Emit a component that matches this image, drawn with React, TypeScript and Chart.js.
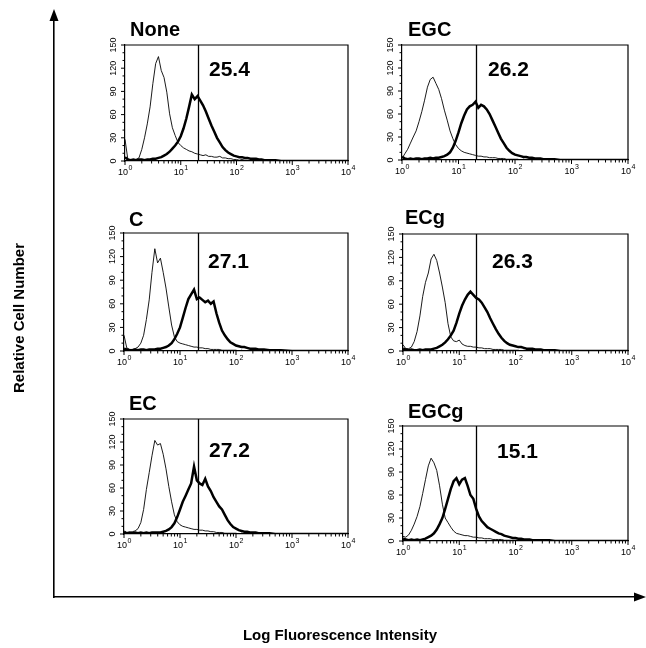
import React, { useEffect, useRef } from "react";
import { Chart, registerables } from "chart.js";
Chart.register(...registerables);

const FONT = '"Liberation Sans", Arial, Helvetica, sans-serif';

// Histogram bin centres (fluorescence units, log spaced)
const binCenters = [
  1.0, 1.12, 1.26, 1.41, 1.58, 1.78, 2.0, 2.24, 2.51, 2.82,
  3.16, 3.55, 3.98, 4.47, 5.01, 5.62, 6.31, 7.08, 7.94, 8.91,
  10.0, 11.2, 12.6, 14.1, 15.8, 17.8, 20.0, 22.4, 25.1, 28.2,
  31.6, 35.5, 39.8, 44.7, 50.1, 56.2, 63.1, 70.8, 79.4, 89.1,
  100, 112, 126, 141, 158, 178, 200, 224, 251, 282,
  316, 398, 501, 631, 1000, 3162, 10000,
];

// Control (thin) and treated (thick) histograms per panel
const noneControl = [
  28, 3, 1, 1, 2, 4, 15, 30, 48, 70,
  100, 126, 135, 117, 108, 89, 61, 43, 33, 24,
  20, 17, 15, 13, 12, 10, 9, 8, 7, 8,
  6, 6, 5, 5, 6, 4, 4, 3, 3, 2,
  2, 1, 2, 1, 1, 1, 1, 0, 1, 0,
  0, 0, 0, 0, 0, 0, 0,
];
const noneTreated = [
  5, 2, 1, 2, 1, 2, 2, 1, 2, 2,
  3, 3, 4, 5, 7, 9, 12, 16, 20, 25,
  32, 42, 55, 70, 86, 80, 84, 78, 72, 64,
  55, 46, 38, 30, 24, 18, 14, 11, 9, 7,
  6, 5, 5, 4, 4, 3, 3, 3, 2, 2,
  1, 1, 1, 0, 0, 0, 0,
];
const egcControl = [
  2, 8, 14, 22, 30, 38, 50, 63, 78, 95,
  105, 108, 100, 92, 80, 65, 52, 38, 28, 20,
  15, 12, 10, 9, 8, 7, 6, 5, 5, 4,
  4, 3, 3, 3, 2, 2, 2, 1, 1, 1,
  1, 1, 0, 1, 0, 0, 0, 0, 0, 0,
  0, 0, 0, 0, 0, 0, 0,
];
const egcTreated = [
  4, 2, 1, 2, 1, 2, 2, 1, 2, 2,
  3, 2, 3, 3, 4, 5, 7, 10, 16, 25,
  36, 48, 58, 66, 70, 72, 76, 68, 72, 70,
  66, 60, 52, 44, 36, 28, 22, 16, 12, 9,
  7, 6, 5, 4, 4, 3, 3, 2, 2, 2,
  1, 1, 1, 0, 0, 0, 0,
];
const cControl = [
  20, 4, 2, 2, 3, 5, 10, 20, 40, 65,
  100, 130, 112, 118, 100, 80, 56, 33, 18, 12,
  10, 9, 8, 7, 6, 5, 5, 4, 4, 3,
  3, 2, 2, 2, 2, 1, 1, 1, 1, 1,
  1, 0, 1, 0, 0, 0, 0, 0, 0, 0,
  0, 0, 0, 0, 0, 0, 0,
];
const cTreated = [
  3, 2, 1, 1, 2, 1, 2, 2, 1, 2,
  2, 2, 3, 3, 4, 5, 7, 10, 15, 22,
  30, 42, 55, 66, 72, 78, 66, 68, 65, 62,
  64, 60, 63, 48, 36, 26, 20, 15, 11, 9,
  7, 6, 5, 5, 4, 3, 3, 3, 2, 2,
  2, 1, 1, 1, 0, 0, 0,
];
const ecgControl = [
  8, 3, 3, 5, 12, 25, 45, 70, 88, 100,
  118, 124, 116, 100, 82, 62, 35, 18, 13, 12,
  14, 9, 7, 6, 6, 5, 5, 4, 4, 3,
  3, 3, 2, 2, 2, 2, 1, 1, 1, 1,
  1, 1, 0, 1, 0, 0, 0, 0, 0, 0,
  0, 0, 0, 0, 0, 0, 0,
];
const ecgTreated = [
  3, 2, 1, 2, 1, 1, 2, 1, 2, 2,
  2, 3, 4, 6, 8, 11, 15, 20, 26, 36,
  48, 58, 66, 72, 76, 72, 68, 66, 62, 56,
  50, 42, 35, 28, 22, 17, 13, 10, 8, 7,
  6, 5, 5, 4, 3, 3, 3, 2, 2, 2,
  1, 1, 1, 0, 0, 0, 0,
];
const ecControl = [
  2, 1, 2, 3, 4, 7, 15, 32, 58, 80,
  102, 122, 116, 118, 104, 85, 62, 42, 25, 16,
  12, 10, 9, 8, 7, 6, 6, 5, 5, 4,
  4, 3, 3, 2, 2, 2, 1, 1, 1, 1,
  1, 0, 1, 0, 0, 0, 0, 0, 0, 0,
  0, 0, 0, 0, 0, 0, 0,
];
const ecTreated = [
  3, 1, 2, 1, 2, 1, 2, 1, 2, 1,
  2, 2, 2, 2, 3, 4, 6, 9, 14, 22,
  32, 42, 50, 58, 66, 88, 70, 66, 64, 72,
  62, 56, 48, 42, 36, 32, 25, 18, 13, 9,
  7, 5, 4, 3, 3, 2, 2, 2, 1, 1,
  1, 1, 0, 0, 0, 0, 0,
];
const egcgControl = [
  6, 5, 8, 14, 22, 32, 45, 62, 80, 98,
  108, 102, 92, 72, 48, 30, 24, 18, 13, 10,
  9, 8, 7, 7, 6, 5, 5, 4, 4, 3,
  3, 3, 2, 2, 2, 2, 1, 1, 1, 1,
  1, 1, 0, 0, 1, 0, 0, 0, 0, 0,
  0, 0, 0, 0, 0, 0, 0,
];
const egcgTreated = [
  3, 2, 1, 2, 1, 2, 1, 2, 3, 5,
  7, 10, 15, 22, 30, 42, 55, 68, 78, 82,
  74, 80, 82, 72, 60, 55, 42, 32, 26, 22,
  18, 16, 14, 12, 10, 9, 7, 6, 5, 4,
  4, 3, 3, 2, 2, 2, 1, 1, 1, 1,
  1, 1, 0, 0, 0, 0, 0,
];

const panelTitles = ["None", "EGC", "C", "ECg", "EC", "EGCg"];
const gatePercents = ["25.4", "26.2", "27.1", "26.3", "27.2", "15.1"];
const markerPositions = [20, 20, 21, 20, 21, 20];
const controlSeries = [noneControl, egcControl, cControl, ecgControl, ecControl, egcgControl];
const treatedSeries = [noneTreated, egcTreated, cTreated, ecgTreated, ecTreated, egcgTreated];

const xDecadeTicks = [1, 10, 100, 1000, 10000];
const xMinorMultipliers = [2, 3, 4, 5, 6, 7, 8, 9];
const yLabelTicks = [0, 30, 60, 90, 120, 150];
const yMinorTicks = [10, 20, 40, 50, 70, 80, 100, 110, 130, 140];

const xAxisTitle = "Log Fluorescence Intensity";
const yAxisTitle = "Relative Cell Number";

// layout (pixel boxes of each plot area + label offsets)
const PANEL_BOXES = [
  { l: 125, t: 45, r: 348, b: 161, tdx: 5, tdy: -15, ndx: 84, ndy: 25 },
  { l: 402, t: 45, r: 628, b: 160, tdx: 6, tdy: -15, ndx: 86, ndy: 25 },
  { l: 124, t: 233, r: 348, b: 351, tdx: 5, tdy: -13, ndx: 84, ndy: 29 },
  { l: 403, t: 234, r: 628, b: 351, tdx: 2, tdy: -16, ndx: 89, ndy: 28 },
  { l: 124, t: 419, r: 348, b: 534, tdx: 5, tdy: -15, ndx: 85, ndy: 32 },
  { l: 403, t: 426, r: 628, b: 541, tdx: 5, tdy: -14, ndx: 94, ndy: 26 },
];

const PL = 40, PT = 40, PR = 14, PB = 24;

function Panel({ idx }: { idx: number }) {
  const ref = useRef<HTMLCanvasElement | null>(null);
  const box = PANEL_BOXES[idx];
  const w = box.r - box.l + PL + PR;
  const h = box.b - box.t + PT + PB;

  useEffect(() => {
    if (!ref.current) return;
    const decor = {
      id: "panelDecor" + idx,
      afterDraw(chart: any) {
        const { ctx, chartArea: a, scales } = chart;
        const xs = scales.x, ys = scales.y;
        ctx.save();
        ctx.strokeStyle = "#000";
        ctx.fillStyle = "#000";
        // frame top + right
        ctx.lineWidth = 1.2;
        ctx.beginPath();
        ctx.moveTo(a.left, a.top);
        ctx.lineTo(a.right, a.top);
        ctx.lineTo(a.right, a.bottom);
        ctx.stroke();
        // gate marker
        const mx = Math.round(xs.getPixelForValue(markerPositions[idx])) + 0.5;
        ctx.lineWidth = 1.3;
        ctx.beginPath();
        ctx.moveTo(mx, a.bottom);
        ctx.lineTo(mx, a.top);
        ctx.stroke();
        // x ticks
        ctx.lineWidth = 1;
        xDecadeTicks.forEach((d, k) => {
          const px = xs.getPixelForValue(d);
          ctx.beginPath();
          ctx.moveTo(px, a.bottom);
          ctx.lineTo(px, a.bottom + 4);
          ctx.stroke();
          if (k < xDecadeTicks.length - 1) {
            xMinorMultipliers.forEach((m) => {
              const p2 = xs.getPixelForValue(d * m);
              ctx.beginPath();
              ctx.moveTo(p2, a.bottom);
              ctx.lineTo(p2, a.bottom + 2.5);
              ctx.stroke();
            });
          }
          // label 10^k
          const exp = String(Math.round(Math.log10(d)));
          ctx.font = "9px " + FONT;
          const wb = ctx.measureText("10").width;
          ctx.font = "7px " + FONT;
          const we = ctx.measureText(exp).width;
          const x0 = px - (wb + we) / 2;
          ctx.textAlign = "left";
          ctx.textBaseline = "alphabetic";
          ctx.font = "9px " + FONT;
          ctx.fillText("10", x0, a.bottom + 14);
          ctx.font = "7px " + FONT;
          ctx.fillText(exp, x0 + wb + 0.5, a.bottom + 9);
        });
        // y ticks
        yLabelTicks.forEach((v) => {
          const py = ys.getPixelForValue(v);
          ctx.beginPath();
          ctx.moveTo(a.left, py);
          ctx.lineTo(a.left - 4, py);
          ctx.stroke();
          ctx.save();
          ctx.translate(a.left - 11, py);
          ctx.rotate(-Math.PI / 2);
          ctx.font = "9px " + FONT;
          ctx.textAlign = "center";
          ctx.textBaseline = "middle";
          ctx.fillText(String(v), 0, 0);
          ctx.restore();
        });
        yMinorTicks.forEach((v) => {
          const py = ys.getPixelForValue(v);
          ctx.beginPath();
          ctx.moveTo(a.left, py);
          ctx.lineTo(a.left - 2.5, py);
          ctx.stroke();
        });
        // title
        ctx.font = "bold 20px " + FONT;
        ctx.textAlign = "left";
        ctx.textBaseline = "middle";
        ctx.fillText(panelTitles[idx], a.left + box.tdx, a.top + box.tdy);
        // percent
        ctx.font = "bold 21px " + FONT;
        ctx.fillText(gatePercents[idx], a.left + box.ndx, a.top + box.ndy);
        ctx.restore();
      },
    };
    const chart = new Chart(ref.current, {
      type: "line",
      data: {
        datasets: [
          {
            data: binCenters.map((x, i) => ({ x, y: controlSeries[idx][i] })),
            borderColor: "#000",
            borderWidth: 0.9,
            pointRadius: 0,
            fill: false,
            tension: 0,
          },
          {
            data: binCenters.map((x, i) => ({ x, y: treatedSeries[idx][i] })),
            borderColor: "#000",
            borderWidth: 2.5,
            pointRadius: 0,
            fill: false,
            tension: 0,
          },
        ],
      },
      options: {
        responsive: false,
        maintainAspectRatio: false,
        animation: false,
        events: [],
        devicePixelRatio: 1,
        layout: { padding: { left: 0, top: PT, right: PR, bottom: 0 } },
        plugins: { legend: { display: false }, tooltip: { enabled: false }, title: { display: false } },
        scales: {
          x: {
            type: "logarithmic",
            min: 1,
            max: 10000,
            ticks: { display: false },
            grid: { display: false },
            border: { display: true, color: "#000", width: 1.2 },
            afterFit: (s: any) => {
              s.height = PB;
            },
          },
          y: {
            type: "linear",
            min: 0,
            max: 150,
            ticks: { display: false },
            grid: { display: false },
            border: { display: true, color: "#000", width: 1.2 },
            afterFit: (s: any) => {
              s.width = PL;
            },
          },
        },
      },
      plugins: [decor],
    } as any);
    return () => chart.destroy();
  }, [idx]);

  return (
    <canvas
      ref={ref}
      width={w}
      height={h}
      style={{ position: "absolute", left: box.l - PL, top: box.t - PT, width: w, height: h }}
    />
  );
}

function Frame() {
  const ref = useRef<HTMLCanvasElement | null>(null);
  useEffect(() => {
    if (!ref.current) return;
    const deco = {
      id: "frameDecor",
      afterDraw(chart: any) {
        const { ctx, chartArea: a } = chart;
        ctx.save();
        ctx.fillStyle = "#000";
        // top arrow
        ctx.beginPath();
        ctx.moveTo(a.left, a.top - 11);
        ctx.lineTo(a.left - 4.5, a.top + 1);
        ctx.lineTo(a.left + 4.5, a.top + 1);
        ctx.closePath();
        ctx.fill();
        // right arrow
        ctx.beginPath();
        ctx.moveTo(a.right + 11, a.bottom);
        ctx.lineTo(a.right - 1, a.bottom - 4.5);
        ctx.lineTo(a.right - 1, a.bottom + 4.5);
        ctx.closePath();
        ctx.fill();
        ctx.font = "bold 15px " + FONT;
        ctx.textAlign = "center";
        ctx.textBaseline = "middle";
        ctx.fillText(xAxisTitle, 340, 636);
        ctx.save();
        ctx.translate(20, 318);
        ctx.rotate(-Math.PI / 2);
        ctx.fillText(yAxisTitle, 0, 0);
        ctx.restore();
        ctx.restore();
      },
    };
    const chart = new Chart(ref.current, {
      type: "scatter",
      data: { datasets: [] },
      options: {
        responsive: false,
        maintainAspectRatio: false,
        animation: false,
        events: [],
        devicePixelRatio: 1,
        layout: { padding: { left: 0, top: 20, right: 11, bottom: 0 } },
        plugins: { legend: { display: false }, tooltip: { enabled: false } },
        scales: {
          x: {
            min: 0,
            max: 1,
            ticks: { display: false },
            grid: { display: false },
            border: { display: true, color: "#000", width: 1.6 },
            afterFit: (s: any) => {
              s.height = 51;
            },
          },
          y: {
            min: 0,
            max: 1,
            ticks: { display: false },
            grid: { display: false },
            border: { display: true, color: "#000", width: 1.6 },
            afterFit: (s: any) => {
              s.width = 54;
            },
          },
        },
      },
      plugins: [deco],
    } as any);
    return () => chart.destroy();
  }, []);
  return (
    <canvas
      ref={ref}
      width={646}
      height={648}
      style={{ position: "absolute", left: 0, top: 0, width: 646, height: 648 }}
    />
  );
}

export default function App() {
  return (
    <div style={{ position: "absolute", left: 0, top: 0, width: 646, height: 648, background: "#fff", overflow: "hidden" }}>
      <Frame />
      {panelTitles.map((_, i) => (
        <Panel key={i} idx={i} />
      ))}
    </div>
  );
}
